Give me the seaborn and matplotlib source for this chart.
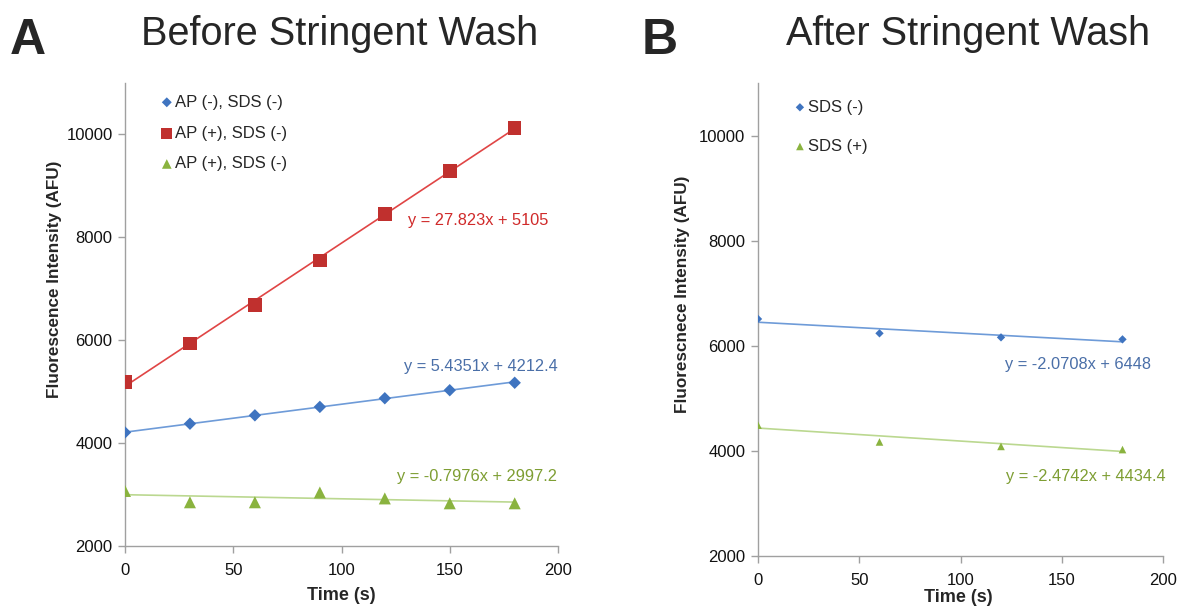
import numpy as np
import pandas as pd
import matplotlib
matplotlib.use("Agg")
import matplotlib.pyplot as plt
import seaborn as sns

# ---------------- data ----------------
time_a = [0, 30, 60, 90, 120, 150, 180]
ap_neg_sds_neg = [4207, 4377, 4540, 4704, 4872, 5028, 5173]
ap_pos_sds_neg = [5185, 5936, 6684, 7547, 8451, 9289, 10130]
ap_pos_sds_neg_g = [3070, 2850, 2850, 3040, 2925, 2830, 2830]
labels_a = ["AP (-), SDS (-)", "AP (+), SDS (-)", "AP (+), SDS (-)"]
fits_a = [(5.4351, 4212.4), (27.823, 5105), (-0.7976, 2997.2)]
eq_a = ["y = 5.4351x + 4212.4", "y = 27.823x + 5105", "y = -0.7976x + 2997.2"]

time_b = [0, 60, 120, 180]
sds_neg = [6510, 6237, 6160, 6122]
sds_pos = [4490, 4170, 4085, 4025]
labels_b = ["SDS (-)", "SDS (+)"]
fits_b = [(-2.0708, 6448), (-2.4742, 4434.4)]
eq_b = ["y = -2.0708x + 6448", "y = -2.4742x + 4434.4"]

x_ticks = [0, 50, 100, 150, 200]
y_ticks = [2000, 4000, 6000, 8000, 10000]

# ---------------- style ----------------
sns.set_theme(style="white")
plt.rcParams["font.family"] = ["Liberation Sans", "DejaVu Sans"]

blue_m, blue_l, blue_t = "#3F74C0", "#6E9BD8", "#4A6FA8"
red_m, red_l, red_t = "#C0302E", "#E04545", "#D02A2A"
green_m, green_l, green_t = "#8AB33F", "#BBD890", "#7E9E33"
spine_c = "#A0A0A0"

fig = plt.figure(figsize=(11.82, 6.07), dpi=100)
axA = fig.add_axes([125/1182, 1-546/607, (558-125)/1182, (546-83)/607])
axB = fig.add_axes([758/1182, 1-556/607, (1163-758)/1182, (556-83)/607])


def style_axis(ax):
    ax.set_xlim(0, 200)
    ax.set_ylim(2000, 11000)
    ax.set_xticks(x_ticks)
    ax.set_yticks(y_ticks)
    for s in ["top", "right"]:
        ax.spines[s].set_visible(False)
    for s in ["left", "bottom"]:
        ax.spines[s].set_color(spine_c)
        ax.spines[s].set_linewidth(1.0)
    ax.tick_params(axis="both", which="major", direction="out", length=5,
                   width=1, color=spine_c, labelsize=12, labelcolor="#111111",
                   left=True, bottom=True)
    ax.tick_params(axis="x", pad=7)
    ax.tick_params(axis="y", pad=4)
    ax.set_xlabel("")
    ax.set_ylabel("")
    ax.grid(False)


# ---- Panel A ----
series_a = [
    (ap_neg_sds_neg, "D", 40, blue_m, blue_l),
    (ap_pos_sds_neg, "s", 95, red_m, red_l),
    (ap_pos_sds_neg_g, "^", 75, green_m, green_l),
]
xfit_a = np.array([time_a[0], time_a[-1]])
for (vals, mk, sz, mc, lc), lab, (m, b) in zip(series_a, labels_a, fits_a):
    sns.lineplot(x=xfit_a, y=m * xfit_a + b, ax=axA, color=lc, lw=1.2,
                 legend=False, zorder=2)
    sns.scatterplot(x=time_a, y=vals, ax=axA, marker=mk, s=sz, color=mc,
                    edgecolor="none", label=lab, zorder=3)
style_axis(axA)
axA.legend(loc="upper left", bbox_to_anchor=(0.058, 1.0), frameon=False,
           fontsize=12, handlelength=0.6, handletextpad=0.2, labelspacing=0.95,
           markerscale=0.8, borderaxespad=0.3)

fig.text(408/1182, 1-221/607, eq_a[1], fontsize=11.8, color=red_t, va="center")
fig.text(404/1182, 1-367/607, eq_a[0], fontsize=11.8, color=blue_t, va="center")
fig.text(397/1182, 1-477/607, eq_a[2], fontsize=11.8, color=green_t, va="center")

# ---- Panel B ----
series_b = [
    (sds_neg, "D", 18, blue_m, blue_l),
    (sds_pos, "^", 30, green_m, green_l),
]
xfit_b = np.array([time_b[0], time_b[-1]])
for (vals, mk, sz, mc, lc), lab, (m, b) in zip(series_b, labels_b, fits_b):
    sns.lineplot(x=xfit_b, y=m * xfit_b + b, ax=axB, color=lc, lw=1.2,
                 legend=False, zorder=2)
    sns.scatterplot(x=time_b, y=vals, ax=axB, marker=mk, s=sz, color=mc,
                    edgecolor="none", label=lab, zorder=3)
style_axis(axB)
axB.legend(loc="upper left", bbox_to_anchor=(0.05, 1.0), frameon=False,
           fontsize=12, handlelength=0.6, handletextpad=0.2, labelspacing=1.45,
           borderaxespad=0.6)
fig.text(1005/1182, 1-364/607, eq_b[0], fontsize=11.8, color=blue_t, va="center")
fig.text(1006/1182, 1-476/607, eq_b[1], fontsize=11.8, color=green_t, va="center")

# ---- labels and titles ----
fig.text(55/1182, 1-279/607, "Fluorescence Intensity (AFU)", rotation=90,
         fontsize=12.3, fontweight="bold", ha="center", va="center")
fig.text(683/1182, 1-294/607, "Fluorescnece Intensity (AFU)", rotation=90,
         fontsize=12.3, fontweight="bold", ha="center", va="center")
fig.text(341/1182, 1-595/607, "Time (s)", fontsize=13, fontweight="bold",
         ha="center", va="center")
fig.text(958/1182, 1-597/607, "Time (s)", fontsize=13, fontweight="bold",
         ha="center", va="center")

fig.text(340/1182, 1-34/607, "Before Stringent Wash", fontsize=28.5,
         ha="center", va="center")
fig.text(968/1182, 1-34/607, "After Stringent Wash", fontsize=28.5,
         ha="center", va="center")
fig.text(28/1182, 1-41/607, "A", fontsize=36, fontweight="bold",
         ha="center", va="center")
fig.text(660/1182, 1-41/607, "B", fontsize=36, fontweight="bold",
         ha="center", va="center")

fig.savefig("out.png", dpi=100, facecolor="white")
